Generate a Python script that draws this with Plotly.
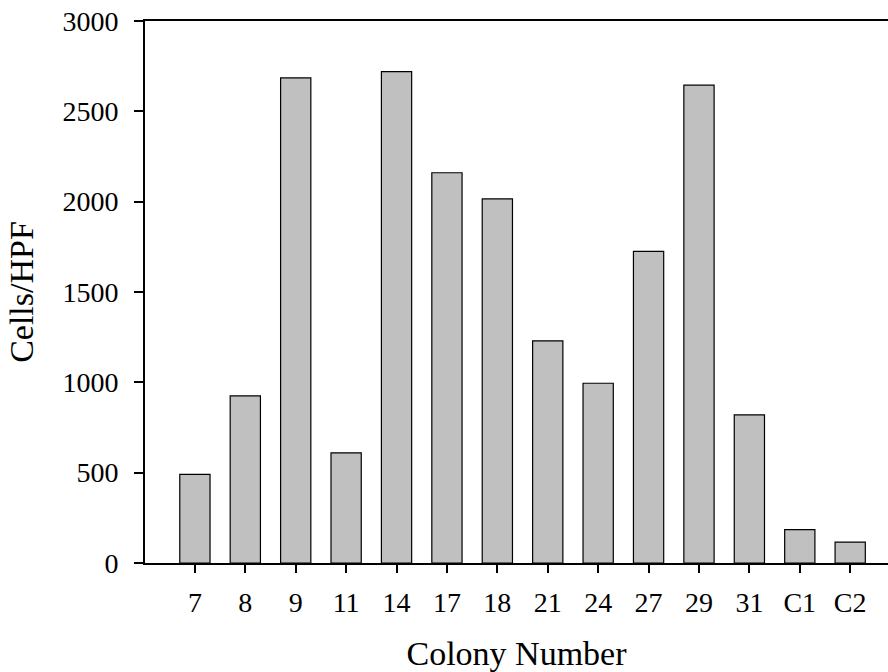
import plotly.graph_objects as go

colonies = ["7", "8", "9", "11", "14", "17", "18", "21", "24", "27", "29", "31", "C1", "C2"]
cells_per_hpf = [490, 925, 2685, 610, 2720, 2160, 2015, 1230, 995, 1725, 2645, 820, 185, 115]

fig = go.Figure()
fig.add_trace(go.Bar(
    x=colonies,
    y=cells_per_hpf,
    width=0.6,
    marker=dict(color="#c0c0c0", line=dict(color="black", width=1.2)),
))

font_family = "Liberation Serif, Times New Roman, serif"
fig.update_layout(
    width=888, height=672,
    margin=dict(l=145, r=0, t=21, b=109, pad=0),
    plot_bgcolor="white", paper_bgcolor="white",
    showlegend=False,
    font=dict(family=font_family, size=28, color="black"),
    bargap=0.4,
)
fig.update_xaxes(
    type="category",
    range=[-0.99, 13.75],
    automargin=False,
    showline=True, linecolor="black", linewidth=2, mirror=True,
    ticks="outside", ticklen=8, tickwidth=1.5, tickcolor="black",
    showgrid=False, zeroline=False,
    tickfont=dict(size=28, family=font_family),
    ticklabelstandoff=5,
    title=dict(text="Colony Number", font=dict(size=34, family=font_family), standoff=30),
)
fig.update_yaxes(
    range=[0, 3000], tickvals=[0, 500, 1000, 1500, 2000, 2500, 3000],
    automargin=False,
    showline=True, linecolor="black", linewidth=2,
    ticks="outside", ticklen=9, tickwidth=1.5, tickcolor="black",
    showgrid=False, zeroline=False,
    tickfont=dict(size=28, family=font_family),
    ticklabelstandoff=10,
    title=dict(text="Cells/HPF", font=dict(size=34, family=font_family), standoff=19),
)

fig.write_html(
    "out.html",
    config={"displayModeBar": False},
    post_script="document.body.style.margin='0';document.body.style.overflow='hidden';",
)
